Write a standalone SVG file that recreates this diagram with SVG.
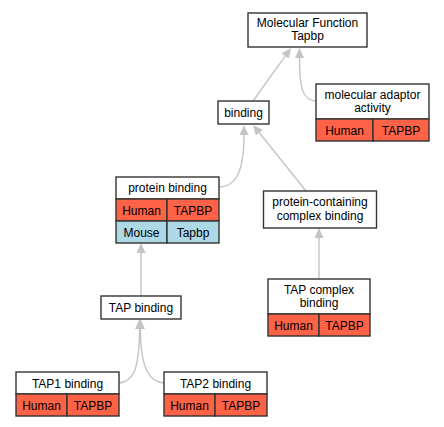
<svg xmlns="http://www.w3.org/2000/svg" width="444" height="427" viewBox="0 0 444 427">
<style>
.box{fill:#ffffff;stroke:#333333;stroke-width:1.4}
.hum{fill:#ff6347;stroke:#333333;stroke-width:1.4}
.mou{fill:#add8e6;stroke:#333333;stroke-width:1.4}
text{font-family:"Liberation Sans",Arial,sans-serif;font-size:12px;fill:#000000;text-anchor:middle}
.edge{fill:none;stroke:#c4c4c4;stroke-width:1.4}
</style>
<defs>
<marker id="ah" viewBox="0 0 10 9" refX="0" refY="4.5" markerWidth="10" markerHeight="9" markerUnits="userSpaceOnUse" orient="auto">
<path d="M0,0 L10,4.5 L0,9 z" fill="#c4c4c4"/>
</marker>
</defs>
<rect width="444" height="427" fill="#ffffff"/>
<g id="edges">
<path class="edge" marker-end="url(#ah)" d="M253,101 L285.2,56.1"/>
<path class="edge" marker-end="url(#ah)" d="M316,101 C303,100 299.5,90 299.5,58"/>
<path class="edge" marker-end="url(#ah)" d="M219,187 C234,187 244,175 244,135"/>
<path class="edge" marker-end="url(#ah)" d="M306,191 L259.3,132.8"/>
<path class="edge" marker-end="url(#ah)" d="M319,279 L319,238"/>
<path class="edge" marker-end="url(#ah)" d="M141,296 L141,253"/>
<path class="edge" marker-end="url(#ah)" d="M119,383 C132,382 139.5,372 139.5,329"/>
<path class="edge" marker-end="url(#ah)" d="M164,383 C151,382 140.5,372 140.5,329"/>
</g>
<g id="mf">
<rect class="box" x="248" y="13" width="119" height="34"/>
<text x="307.5" y="27">Molecular Function</text>
<text x="307.5" y="40">Tapbp</text>
</g>
<g id="adaptor">
<rect class="box" x="316" y="84" width="113" height="35"/>
<text x="372.5" y="98.5">molecular adaptor</text>
<text x="372.5" y="111.5">activity</text>
<rect class="hum" x="316" y="119" width="57" height="22"/>
<rect class="hum" x="373" y="119" width="56" height="22"/>
<text x="344.5" y="134.5">Human</text>
<text x="401" y="134.5">TAPBP</text>
</g>
<g id="binding">
<rect class="box" x="218" y="101" width="51" height="23"/>
<text x="243.5" y="116.5">binding</text>
</g>
<g id="protein-binding">
<rect class="box" x="116" y="177" width="103" height="22"/>
<text x="167.5" y="192">protein binding</text>
<rect class="hum" x="116" y="199" width="51" height="22"/>
<rect class="hum" x="167" y="199" width="52" height="22"/>
<text x="141.5" y="214.5">Human</text>
<text x="193" y="214.5">TAPBP</text>
<rect class="mou" x="116" y="221" width="51" height="22"/>
<rect class="mou" x="167" y="221" width="52" height="22"/>
<text x="141.5" y="236.5">Mouse</text>
<text x="193" y="236.5">Tapbp</text>
</g>
<g id="complex-binding">
<rect class="box" x="263.5" y="191" width="113" height="37"/>
<text x="320" y="206">protein-containing</text>
<text x="320" y="219.5">complex binding</text>
</g>
<g id="tap-binding">
<rect class="box" x="101" y="296" width="80" height="23"/>
<text x="141" y="311.5">TAP binding</text>
</g>
<g id="tap-complex">
<rect class="box" x="268" y="279" width="102" height="35"/>
<text x="319" y="293.5">TAP complex</text>
<text x="319" y="306.5">binding</text>
<rect class="hum" x="268" y="314" width="51" height="22"/>
<rect class="hum" x="319" y="314" width="51" height="22"/>
<text x="293.5" y="329.5">Human</text>
<text x="344.5" y="329.5">TAPBP</text>
</g>
<g id="tap1">
<rect class="box" x="16" y="372" width="103" height="22"/>
<text x="67.5" y="387.5">TAP1 binding</text>
<rect class="hum" x="16" y="394" width="51" height="22"/>
<rect class="hum" x="67" y="394" width="52" height="22"/>
<text x="41.5" y="409.5">Human</text>
<text x="93" y="409.5">TAPBP</text>
</g>
<g id="tap2">
<rect class="box" x="164" y="372" width="103" height="22"/>
<text x="215.5" y="387.5">TAP2 binding</text>
<rect class="hum" x="164" y="394" width="51" height="22"/>
<rect class="hum" x="215" y="394" width="52" height="22"/>
<text x="189.5" y="409.5">Human</text>
<text x="241" y="409.5">TAPBP</text>
</g>
</svg>
